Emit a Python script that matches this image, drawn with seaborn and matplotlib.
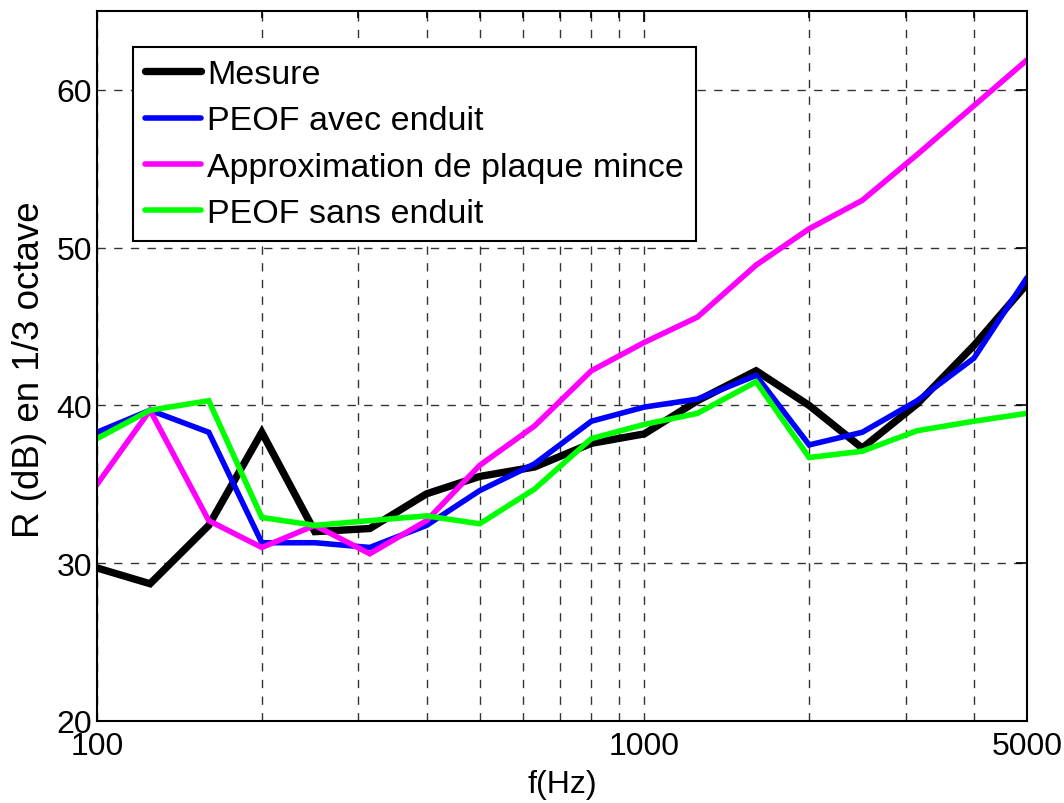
import matplotlib
matplotlib.use("Agg")
import matplotlib.pyplot as plt
import seaborn as sns
import numpy as np
from matplotlib.ticker import FixedLocator, NullFormatter, LogLocator

sns.set_style("white")
plt.rcParams['font.family'] = ['Liberation Sans', 'DejaVu Sans']
plt.rcParams['text.color'] = 'black'
plt.rcParams['axes.labelcolor'] = 'black'
plt.rcParams['xtick.color'] = 'black'
plt.rcParams['ytick.color'] = 'black'

freq = [100, 125, 160, 200, 250, 315, 400, 500, 630, 800, 1000, 1250, 1600, 2000, 2500, 3150, 4000, 5000]
mesure = [29.7, 28.7, 32.4, 38.3, 32.0, 32.2, 34.4, 35.5, 36.1, 37.6, 38.2, 40.3, 42.2, 40.0, 37.3, 40.1, 43.8, 47.7]
peof_avec = [38.3, 39.7, 38.3, 31.3, 31.3, 31.0, 32.4, 34.6, 36.3, 39.0, 39.9, 40.4, 41.9, 37.5, 38.3, 40.3, 43.0, 48.1]
plaque_mince = [35.0, 39.7, 32.7, 31.0, 32.4, 30.6, 32.7, 36.2, 38.7, 42.2, 44.0, 45.6, 48.9, 51.2, 53.0, 55.9, 59.0, 61.9]
peof_sans = [37.9, 39.7, 40.3, 32.9, 32.4, 32.7, 33.0, 32.5, 34.7, 37.9, 38.8, 39.5, 41.5, 36.7, 37.1, 38.4, 39.0, 39.5]

labels = ["Mesure", "PEOF avec enduit", "Approximation de plaque mince", "PEOF sans enduit"]
colors = ["#000000", "#0000ff", "#ff00ff", "#00ff00"]
widths = [5.3, 4.0, 4.0, 4.0]
series = [mesure, peof_avec, plaque_mince, peof_sans]

x_ticks = [100, 1000, 5000]
y_ticks = [20, 30, 40, 50, 60]

fig = plt.figure(figsize=(10.64, 8.04), dpi=100)
ax = fig.add_axes([0.0912, 0.102, 0.8740, 0.883])

for vals, lab, col, lw in zip(series, labels, colors, widths):
    sns.lineplot(x=freq, y=vals, color=col, linewidth=lw, label=lab, ax=ax,
                 solid_joinstyle='miter')

ax.set_xscale('log')
ax.set_xlim(100, 5000)
ax.set_ylim(20, 65)
ax.xaxis.set_major_locator(FixedLocator(x_ticks))
ax.set_xticklabels([str(t) for t in x_ticks])
ax.xaxis.set_minor_locator(LogLocator(base=10, subs=np.arange(2, 10)))
ax.xaxis.set_minor_formatter(NullFormatter())
ax.yaxis.set_major_locator(FixedLocator(y_ticks))
ax.set_yticklabels([str(t) for t in y_ticks])

ax.grid(True, which='both', axis='x', linestyle=(0, (6, 6)), color='#333333', linewidth=1.0)
ax.grid(True, which='major', axis='y', linestyle=(0, (6, 6)), color='#333333', linewidth=1.0)
ax.set_axisbelow(True)

ax.tick_params(which='both', direction='in', top=True, right=True,
               colors='black', width=1.2)
ax.tick_params(axis='y', labelsize=23)
ax.tick_params(axis='x', labelsize=23, pad=7)
ax.tick_params(which='major', length=8)
ax.tick_params(which='minor', length=5)
for s in ax.spines.values():
    s.set_color('black')
    s.set_linewidth(1.5)

ax.set_xlabel("f(Hz)", fontsize=23, labelpad=6)
ax.set_ylabel("R (dB) en 1/3 octave", fontsize=26.5)
ax.yaxis.set_label_coords(-0.054, 0.496)

leg = ax.legend(loc='upper left', bbox_to_anchor=(0.0387, 0.949), borderaxespad=0,
                fontsize=24.5, frameon=True, fancybox=False, framealpha=1,
                edgecolor='black', handlelength=1.65, handletextpad=0.18,
                labelspacing=0.45, borderpad=0.35)
leg.get_frame().set_linewidth(1.5)

fig.savefig("out.png", dpi=100)
